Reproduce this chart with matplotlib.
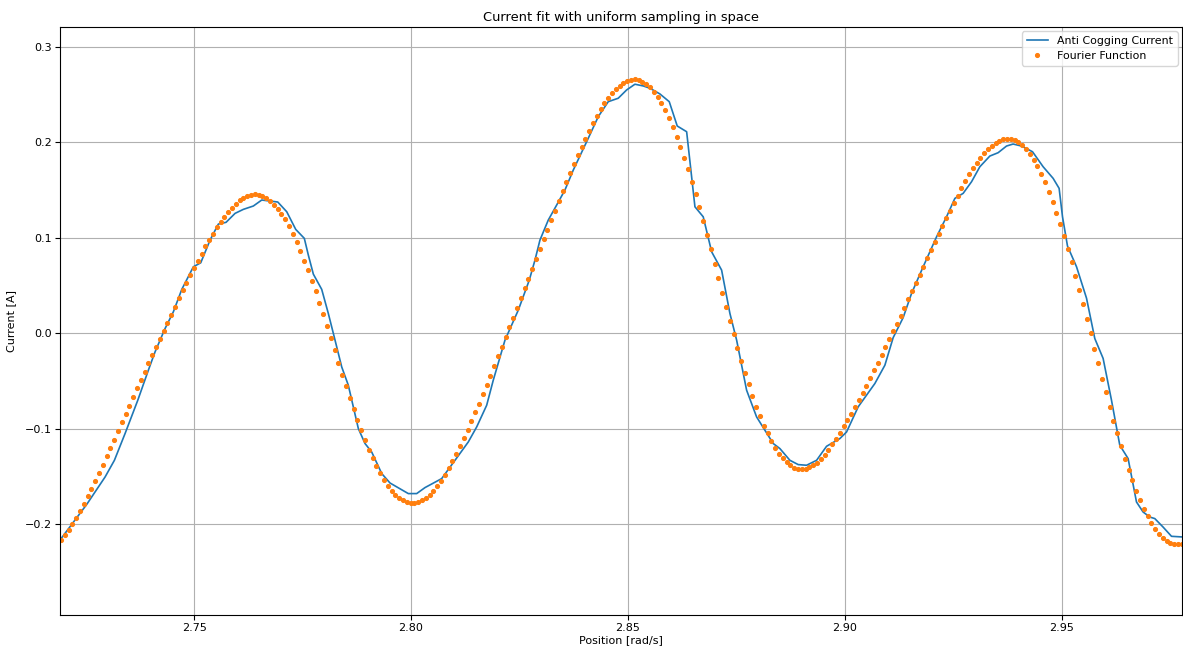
import numpy as np
import matplotlib
matplotlib.use("Agg")
import matplotlib.pyplot as plt

# Anti cogging current (measured), irregular sample positions
acc_pos = [2.71935, 2.72528, 2.72949, 2.73164, 2.7341, 2.73703, 2.73947, 2.74101, 2.74332, 2.74523,
           2.74717, 2.74984, 2.75154, 2.75369, 2.7556, 2.75737, 2.75945, 2.76136, 2.76366, 2.7656,
           2.76751, 2.76929, 2.77136, 2.77343, 2.77541, 2.77634, 2.77749, 2.77942, 2.78094, 2.78249,
           2.78403, 2.78555, 2.78786, 2.7894, 2.79094, 2.79325, 2.79516, 2.79938, 2.80131, 2.80323,
           2.80707, 2.81014, 2.8132, 2.81514, 2.81744, 2.81896, 2.82166, 2.82472, 2.82726, 2.82857,
           2.82972, 2.83164, 2.83357, 2.83548, 2.8374, 2.84048, 2.84316, 2.84546, 2.84776, 2.8497,
           2.85161, 2.85353, 2.85507, 2.85737, 2.85952, 2.86136, 2.86353, 2.86544, 2.86735, 2.86929,
           2.87159, 2.8735, 2.87505, 2.87735, 2.87965, 2.88348, 2.88502, 2.88733, 2.88924, 2.89117,
           2.89348, 2.89578, 2.89885, 2.90039, 2.90306, 2.90691, 2.90922, 2.91113, 2.91343, 2.91537,
           2.91804, 2.92113, 2.92343, 2.92535, 2.92726, 2.9292, 2.93111, 2.93341, 2.93532, 2.93726,
           2.93878, 2.94071, 2.94325, 2.94569, 2.948, 2.94938, 2.95016, 2.95131, 2.95339, 2.95569,
           2.9576, 2.95952, 2.96145, 2.96336, 2.96528, 2.96721, 2.96873, 2.97028, 2.97143, 2.97334,
           2.97528, 2.97788]
acc_cur = [-0.2154, -0.1794, -0.1508, -0.1333, -0.1052, -0.0703, -0.0388, -0.0196, 0.0049, 0.0224,
           0.0459, 0.0696, 0.0738, 0.0976, 0.1144, 0.1162, 0.1256, 0.1298, 0.1333, 0.1396,
           0.1385, 0.1375, 0.1273, 0.1088, 0.0994, 0.0818, 0.0619, 0.0459, 0.0207, -0.0073,
           -0.0354, -0.0546, -0.1000, -0.1157, -0.1246, -0.1472, -0.1571, -0.1682, -0.1682, -0.1619,
           -0.1525, -0.1333, -0.1141, -0.0983, -0.0756, -0.0493, -0.0073, 0.0241, 0.0556, 0.0766,
           0.0976, 0.1186, 0.1343, 0.1501, 0.1710, 0.2007, 0.2270, 0.2427, 0.2463, 0.2550,
           0.2610, 0.2592, 0.2568, 0.2508, 0.2427, 0.2172, 0.2112, 0.1325, 0.1220, 0.0853,
           0.0661, 0.0207, -0.0073, -0.0598, -0.0878, -0.1157, -0.1210, -0.1333, -0.1378, -0.1385,
           -0.1333, -0.1186, -0.1105, -0.1036, -0.0773, -0.0528, -0.0336, -0.0047, 0.0163, 0.0417,
           0.0696, 0.1010, 0.1220, 0.1413, 0.1466, 0.1588, 0.1745, 0.1857, 0.1892, 0.1962,
           0.1983, 0.1962, 0.1902, 0.1745, 0.1623, 0.1518, 0.1220, 0.0913, 0.0696, 0.0367,
           -0.0056, -0.0265, -0.0703, -0.1175, -0.1315, -0.1770, -0.1875, -0.1928, -0.1944, -0.2033,
           -0.2130, -0.2137]

# Fourier fit, evaluated on a uniform grid in space
fit_start, fit_stop = 2.71935, 2.97765
fit_cur = [-0.2165, -0.2120, -0.2067, -0.1997, -0.1934, -0.1868, -0.1791, -0.1710, -0.1637, -0.1553,
           -0.1466, -0.1378, -0.1287, -0.1203, -0.1115, -0.1025, -0.0934, -0.0850, -0.0763, -0.0672,
           -0.0580, -0.0493, -0.0409, -0.0318, -0.0234, -0.0147, -0.0063, 0.0024, 0.0108, 0.0192,
           0.0276, 0.0367, 0.0448, 0.0528, 0.0605, 0.0682, 0.0759, 0.0832, 0.0909, 0.0976,
           0.1042, 0.1109, 0.1165, 0.1221, 0.1270, 0.1315, 0.1357, 0.1392, 0.1420, 0.1438,
           0.1451, 0.1455, 0.1451, 0.1434, 0.1413, 0.1382, 0.1343, 0.1301, 0.1249, 0.1193,
           0.1120, 0.1042, 0.0955, 0.0864, 0.0759, 0.0664, 0.0546, 0.0441, 0.0318, 0.0196,
           0.0073, -0.0049, -0.0178, -0.0308, -0.0434, -0.0556, -0.0679, -0.0797, -0.0906, -0.1018,
           -0.1123, -0.1220, -0.1308, -0.1392, -0.1469, -0.1535, -0.1598, -0.1651, -0.1693, -0.1728,
           -0.1752, -0.1770, -0.1777, -0.1777, -0.1766, -0.1749, -0.1724, -0.1693, -0.1651, -0.1602,
           -0.1546, -0.1483, -0.1417, -0.1343, -0.1265, -0.1182, -0.1098, -0.1011, -0.0923, -0.0829,
           -0.0738, -0.0640, -0.0542, -0.0444, -0.0343, -0.0241, -0.0143, -0.0045, 0.0060, 0.0161,
           0.0269, 0.0367, 0.0469, 0.0570, 0.0675, 0.0780, 0.0885, 0.0983, 0.1081, 0.1186,
           0.1283, 0.1385, 0.1487, 0.1581, 0.1679, 0.1773, 0.1864, 0.1952, 0.2039, 0.2120,
           0.2200, 0.2277, 0.2347, 0.2410, 0.2466, 0.2515, 0.2557, 0.2595, 0.2623, 0.2644,
           0.2658, 0.2662, 0.2655, 0.2637, 0.2613, 0.2578, 0.2532, 0.2480, 0.2417, 0.2340,
           0.2256, 0.2162, 0.2060, 0.1952, 0.1839, 0.1718, 0.1584, 0.1455, 0.1319, 0.1175,
           0.1028, 0.0878, 0.0727, 0.0574, 0.0423, 0.0276, 0.0126, -0.0014, -0.0154, -0.0294,
           -0.0416, -0.0538, -0.0658, -0.0773, -0.0871, -0.0972, -0.1052, -0.1130, -0.1199, -0.1262,
           -0.1312, -0.1354, -0.1385, -0.1409, -0.1420, -0.1427, -0.1420, -0.1406, -0.1385, -0.1357,
           -0.1319, -0.1273, -0.1220, -0.1165, -0.1105, -0.1042, -0.0976, -0.0909, -0.0843, -0.0773,
           -0.0696, -0.0626, -0.0549, -0.0469, -0.0388, -0.0308, -0.0227, -0.0143, -0.0063, 0.0021,
           0.0101, 0.0182, 0.0269, 0.0353, 0.0437, 0.0521, 0.0609, 0.0696, 0.0783, 0.0871,
           0.0955, 0.1035, 0.1123, 0.1203, 0.1283, 0.1364, 0.1441, 0.1518, 0.1595, 0.1665,
           0.1728, 0.1787, 0.1839, 0.1889, 0.1928, 0.1965, 0.1997, 0.2018, 0.2032, 0.2039,
           0.2039, 0.2025, 0.2004, 0.1973, 0.1928, 0.1875, 0.1815, 0.1752, 0.1665, 0.1581,
           0.1483, 0.1378, 0.1262, 0.1144, 0.1018, 0.0885, 0.0748, 0.0595, 0.0451, 0.0301,
           0.0147, -0.0003, -0.0161, -0.0318, -0.0476, -0.0622, -0.0773, -0.0920, -0.1052, -0.1186,
           -0.1315, -0.1438, -0.1542, -0.1654, -0.1752, -0.1840, -0.1917, -0.1990, -0.2049, -0.2102,
           -0.2144, -0.2179, -0.2204, -0.2214, -0.2214, -0.2214]
fit_pos = np.linspace(fit_start, fit_stop, len(fit_cur))

plt.rcParams['font.size'] = 8
plt.rcParams['xtick.major.pad'] = 2.5
plt.rcParams['ytick.major.pad'] = 2.5

fig, ax = plt.subplots(figsize=(11.83, 6.51), dpi=100)
fig.subplots_adjust(left=60/1183, right=1182/1183, top=1-27/651, bottom=1-615/651)

ax.plot(acc_pos, acc_cur, color='#1f77b4', lw=1.2, label='Anti Cogging Current')
ax.plot(fit_pos, fit_cur, 'o', color='#ff7f0e', ms=2.7, label='Fourier Function')

ax.set_xlim(2.7191, 2.9777)
ax.set_ylim(-0.2955, 0.321)
ax.set_xticks([2.75, 2.80, 2.85, 2.90, 2.95])
ax.set_yticks([-0.2, -0.1, 0.0, 0.1, 0.2, 0.3])
ax.grid(True, color='#b0b0b0', lw=0.8)
ax.set_title('Current fit with uniform sampling in space', fontsize=9.4, pad=4)
ax.set_xlabel('Position [rad/s]', labelpad=1.5)
ax.set_ylabel('Current [A]', labelpad=6)
ax.legend(loc='upper right', fontsize=7.9, borderaxespad=0.4)

fig.savefig('out.png', dpi=100)
